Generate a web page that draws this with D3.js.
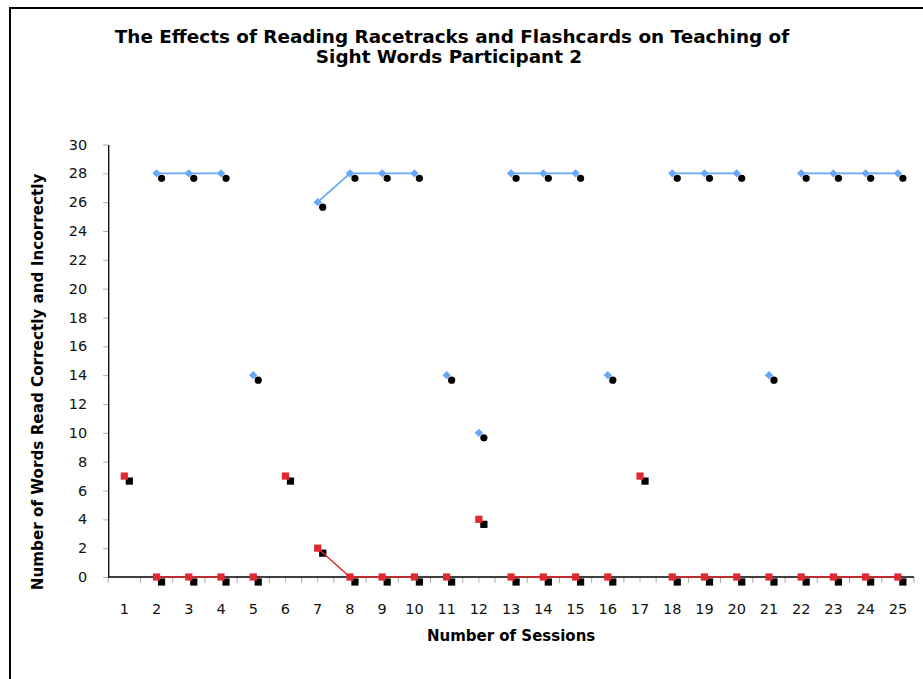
<!DOCTYPE html>
<html>
<head>
<meta charset="utf-8">
<script src="https://cdn.jsdelivr.net/npm/d3@7"></script>
<style>
  body { margin: 0; background: #fff; }
  svg { display: block; font-family: "DejaVu Sans", Verdana, sans-serif; }
</style>
</head>
<body>
<script>
// session labels along the bottom
var sessions = ["1","2","3","4","5","6","7","8","9","10","11","12","13","14","15","16","17","18","19","20","21","22","23","24","25"];

// words read correctly (blue) and incorrectly (red), null = no point
var correct   = [null,28,28,28,14,null,26,28,28,28,14,10,28,28,28,14,null,28,28,28,14,28,28,28,28];
var incorrect = [7,0,0,0,0,7,2,0,0,0,0,4,0,0,0,0,7,0,0,0,0,0,0,0,0];

// runs of sessions joined by a line
var segments = [["2","4"],["7","10"],["13","15"],["18","20"],["22","25"]];

var yTicks = [0,2,4,6,8,10,12,14,16,18,20,22,24,26,28,30];
// small extra marks on the x axis
var extraTicks = ["6","7","12","17"];

var width = 923, height = 679;
var margin = {top: 144.5, right: 9, bottom: 102, left: 108.2};

var svg = d3.select("body").append("svg")
  .attr("width", width)
  .attr("height", height);

// outer chart border (runs off the right and bottom)
svg.append("rect")
  .attr("x", 10).attr("y", 8)
  .attr("width", 1000).attr("height", 1000)
  .attr("fill", "none")
  .attr("stroke", "#000")
  .attr("stroke-width", 2);

var x = d3.scaleBand()
  .domain(sessions)
  .range([margin.left, width - margin.right]);

var y = d3.scaleLinear()
  .domain([0, 30])
  .range([height - margin.bottom, margin.top]);

var cx = function(s) { return x(s) + x.bandwidth() / 2; };

// title
var title = svg.append("text")
  .attr("text-anchor", "middle")
  .attr("font-weight", "bold")
  .attr("font-size", 18.4);
title.append("tspan").attr("x", 452).attr("y", 43)
  .text("The Effects of Reading Racetracks and Flashcards on Teaching of");
title.append("tspan").attr("x", 449).attr("y", 63)
  .text("Sight Words Participant 2");

// y axis
var yAxis = svg.append("g")
  .attr("transform", `translate(${margin.left},0)`)
  .call(d3.axisLeft(y).tickValues(yTicks).tickSize(5).tickSizeOuter(0).tickPadding(16));
yAxis.select(".domain").attr("stroke", "#000").attr("stroke-width", 1.3);
yAxis.selectAll(".tick line").attr("stroke", "#aaa");
yAxis.selectAll(".tick text")
  .attr("font-size", 14.5)
  .attr("fill", "#111")
  .attr("font-family", "DejaVu Sans, sans-serif");

// x axis: labels centred, ticks on category edges
var y0 = y(0);
var xAxis = svg.append("g")
  .attr("transform", `translate(0,${y0})`)
  .call(d3.axisBottom(x).tickSize(0).tickSizeOuter(0).tickPadding(27));
xAxis.select(".domain").remove();
xAxis.selectAll(".tick text")
  .attr("font-size", 14.5)
  .attr("fill", "#111")
  .attr("font-family", "DejaVu Sans, sans-serif");

var edges = sessions.map(function(s) { return x(s); }).concat([x.range()[1]]);
svg.append("g").selectAll("line")
  .data(edges)
  .enter().append("line")
  .attr("x1", d => d).attr("x2", d => d)
  .attr("y1", y0).attr("y2", y0 + 6)
  .attr("stroke", "#aaa");

svg.append("g").selectAll("line")
  .data(extraTicks)
  .enter().append("line")
  .attr("x1", d => cx(d)).attr("x2", d => cx(d))
  .attr("y1", y0).attr("y2", y0 + 6)
  .attr("stroke", "#bbb");

svg.append("line")
  .attr("x1", x.range()[0]).attr("x2", x.range()[1])
  .attr("y1", y0).attr("y2", y0)
  .attr("stroke", "#000")
  .attr("stroke-width", 1.3);

// axis titles
svg.append("text")
  .attr("x", (x.range()[0] + x.range()[1]) / 2)
  .attr("y", 641)
  .attr("text-anchor", "middle")
  .attr("font-weight", "bold")
  .attr("font-size", 15)
  .text("Number of Sessions");

svg.append("text")
  .attr("transform", "translate(43,382) rotate(-90)")
  .attr("text-anchor", "middle")
  .attr("font-weight", "bold")
  .attr("font-size", 15.2)
  .text("Number of Words Read Correctly and Incorrectly");

// point data
var bluePts = sessions.map((s, i) => ({s: s, v: correct[i]})).filter(d => d.v !== null);
var redPts = sessions.map((s, i) => ({s: s, v: incorrect[i]})).filter(d => d.v !== null);

var blue = "#66a8f7", red = "#e0282e";
var sh = 5; // shadow offset

// black shadows first
svg.append("g").selectAll("circle")
  .data(bluePts)
  .enter().append("circle")
  .attr("cx", d => cx(d.s) + sh)
  .attr("cy", d => y(d.v) + sh)
  .attr("r", 3.6)
  .attr("fill", "#000");

svg.append("g").selectAll("rect")
  .data(redPts)
  .enter().append("rect")
  .attr("x", d => cx(d.s) + sh - 3.6)
  .attr("y", d => y(d.v) + sh - 3.6)
  .attr("width", 7.2).attr("height", 7.2)
  .attr("fill", "#000");

// lines within each phase
var line = d3.line()
  .x(d => cx(d.s))
  .y(d => y(d.v));

function inSeg(seg) {
  var a = sessions.indexOf(seg[0]), b = sessions.indexOf(seg[1]);
  return function(d) { var i = sessions.indexOf(d.s); return i >= a && i <= b; };
}

segments.forEach(function(seg) {
  svg.append("path")
    .datum(redPts.filter(inSeg(seg)))
    .attr("d", line)
    .attr("fill", "none")
    .attr("stroke", red)
    .attr("stroke-width", 1.4);
  svg.append("path")
    .datum(bluePts.filter(inSeg(seg)))
    .attr("d", line)
    .attr("fill", "none")
    .attr("stroke", blue)
    .attr("stroke-width", 1.8);
});

// markers
svg.append("g").selectAll("path")
  .data(bluePts)
  .enter().append("path")
  .attr("transform", d => `translate(${cx(d.s)},${y(d.v)})`)
  .attr("d", "M0,-4.2L4.2,0L0,4.2L-4.2,0Z")
  .attr("fill", blue);

svg.append("g").selectAll("rect")
  .data(redPts)
  .enter().append("rect")
  .attr("x", d => cx(d.s) - 3.6)
  .attr("y", d => y(d.v) - 3.6)
  .attr("width", 7.2).attr("height", 7.2)
  .attr("fill", red);
</script>
</body>
</html>
